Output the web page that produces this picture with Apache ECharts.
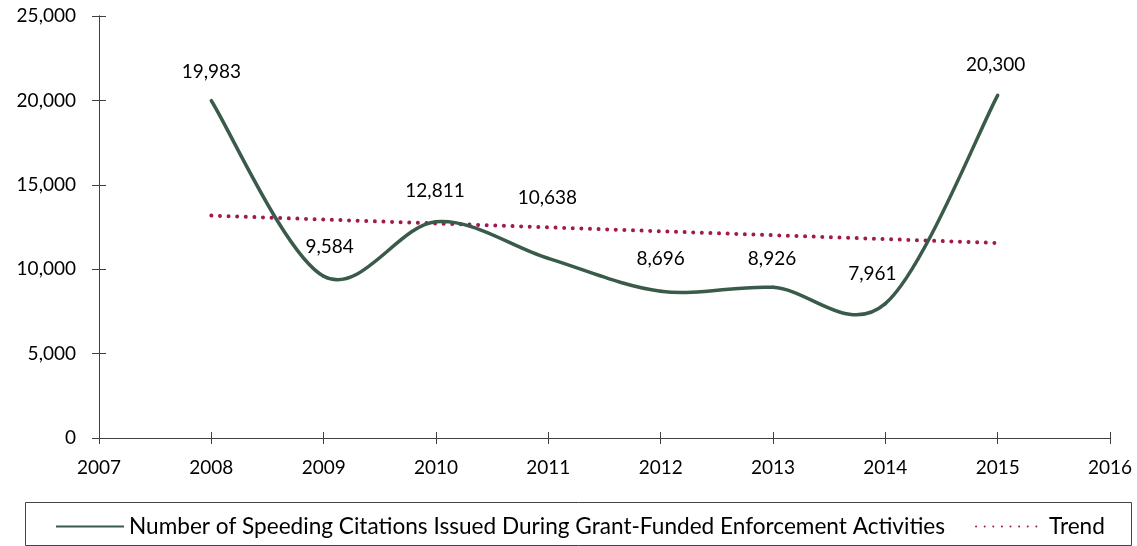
<!DOCTYPE html>
<html>
<head>
<meta charset="utf-8">
<script src="https://cdn.jsdelivr.net/npm/echarts@6/dist/echarts.min.js"></script>
<style>html,body{margin:0;padding:0;background:#fff;}#c{width:1137px;height:546px;}</style>
</head>
<body>
<div id="c"></div>
<script>
const years = [2008, 2009, 2010, 2011, 2012, 2013, 2014, 2015];
const citations = [19983, 9584, 12811, 10638, 8696, 8926, 7961, 20300];
const trendYears = [2008, 2015];
const trendValues = [13175, 11550];
const seriesNames = ['Number of Speeding Citations Issued During Grant-Funded Enforcement Activities', 'Trend'];

const labelOffsets = [[0,-29],[6,-29],[-1,-31],[-1,-61],[0,-32],[-1,-28],[-13,-30],[-2,-30]];
const FONT = 'Lato';
const fmt = v => v.toLocaleString('en-US');
const axisColor = '#404040';
const mainColor = '#3a5a4a';
const trendColor = '#a01a50';

const chart = echarts.init(document.getElementById('c'), null, {renderer: 'canvas'});
const mainData = years.map((y, i) => ({
  value: [y, citations[i]],
  label: {offset: labelOffsets[i]}
}));
const curveData = years.map((y, i) => [y, citations[i]]);
const trendData = trendYears.map((y, i) => [y, trendValues[i]]);

// Smoothed curve (Catmull-Rom style bezier, as in the spreadsheet chart), positioned through the axes
function renderCurve(params, api) {
  const i = params.dataIndex;
  const n = years.length;
  if (i >= n - 1) return null;
  const P = j => {
    const k = Math.max(0, Math.min(n - 1, j));
    return api.coord([years[k], citations[k]]);
  };
  const p0 = P(i - 1), p1 = P(i), p2 = P(i + 1), p3 = P(i + 2);
  return {
    type: 'bezierCurve',
    shape: {
      x1: p1[0], y1: p1[1], x2: p2[0], y2: p2[1],
      cpx1: p1[0] + (p2[0] - p0[0]) / 6, cpy1: p1[1] + (p2[1] - p0[1]) / 6,
      cpx2: p2[0] - (p3[0] - p1[0]) / 6, cpy2: p2[1] - (p3[1] - p1[1]) / 6
    },
    style: {stroke: mainColor, lineWidth: 3.5, fill: null, lineCap: 'round'}
  };
}

const xBase = {
  type: 'value', min: 2007, max: 2016, interval: 1,
  axisLine: {show: true, lineStyle: {color: axisColor, width: 1}},
  splitLine: {show: false}
};
const yBase = {
  type: 'value', min: 0, max: 25000, interval: 5000,
  axisLine: {show: true, lineStyle: {color: axisColor, width: 1}},
  splitLine: {show: false}
};

chart.setOption({
  animation: false,
  backgroundColor: '#fff',
  textStyle: {fontFamily: FONT},
  grid: {left: 99, right: 27, top: 16, bottom: 108, containLabel: false},
  xAxis: [
    Object.assign({}, xBase, {
      axisTick: {show: true, inside: false, length: 6, lineStyle: {color: axisColor}},
      axisLabel: {color: '#000', fontSize: 19, fontFamily: FONT, margin: 20, formatter: v => String(v)}
    }),
    Object.assign({}, xBase, {
      position: 'bottom',
      axisTick: {show: true, inside: true, length: 6, lineStyle: {color: axisColor}},
      axisLabel: {show: false}
    })
  ],
  yAxis: [
    Object.assign({}, yBase, {
      axisTick: {show: true, inside: false, length: 7, lineStyle: {color: axisColor}},
      axisLabel: {color: '#000', fontSize: 19, fontFamily: FONT, margin: 23, formatter: v => fmt(v)}
    }),
    Object.assign({}, yBase, {
      position: 'left',
      axisTick: {show: true, inside: true, length: 7, lineStyle: {color: axisColor}},
      axisLabel: {show: false}
    })
  ],
  legend: {
    bottom: 8,
    left: 55,
    padding: 0,
    itemWidth: 68,
    itemHeight: 14,
    itemGap: 30,
    textStyle: {color: '#000', fontSize: 22.6, fontFamily: FONT},
    itemStyle: {opacity: 0},
    lineStyle: {opacity: 1},
    data: seriesNames
  },
  graphic: [{
    type: 'rect', z: -1,
    shape: {x: 25.5, y: 502.5, width: 1106, height: 43},
    style: {fill: 'none', stroke: '#444', lineWidth: 1}
  }],
  series: [
    {
      name: seriesNames[0],
      type: 'line',
      data: mainData,
      symbol: 'circle',
      symbolSize: 2,
      itemStyle: {color: 'rgba(0,0,0,0)'},
      lineStyle: {color: mainColor, width: 3.5, opacity: 0},
      label: {show: true, position: 'inside', color: '#000', fontSize: 19, fontFamily: FONT,
              formatter: p => fmt(p.value[1])},
      z: 4
    },
    {
      type: 'custom',
      data: curveData,
      encode: {x: 0, y: 1},
      renderItem: renderCurve,
      clip: false,
      silent: true,
      z: 3
    },
    {
      name: seriesNames[1],
      type: 'line',
      data: trendData,
      symbol: 'none',
      lineStyle: {color: trendColor, width: 4, type: [0.01, 8.6], cap: 'round'},
      itemStyle: {color: trendColor},
      z: 2
    }
  ]
});
</script>
</body>
</html>
